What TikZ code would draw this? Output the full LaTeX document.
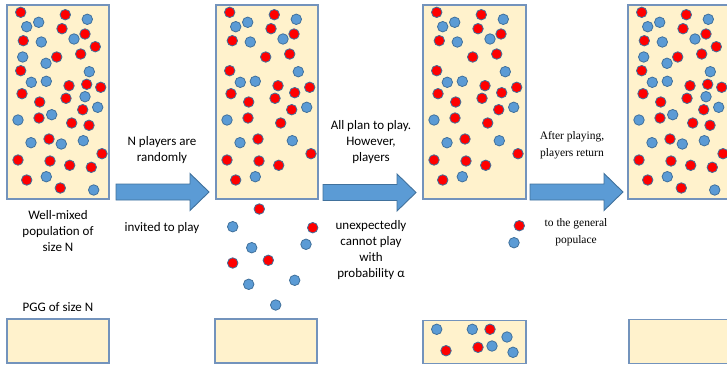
\documentclass[tikz,border=0pt]{standalone}
\usepackage{fontspec}
\setmainfont{Carlito}
\newfontfamily\serifface{Liberation Serif}
\definecolor{boxfill}{HTML}{FFF2CC}
\definecolor{boxline}{HTML}{7393BC}
\definecolor{ballred}{HTML}{FF0000}
\definecolor{ballblue}{HTML}{5B9BD5}
\definecolor{ballline}{HTML}{41719C}
\definecolor{arrowfill}{HTML}{5B9BD5}
\definecolor{arrowline}{HTML}{41719C}
\tikzset{
  popbox/.style={draw=boxline, fill=boxfill, line width=1.4pt, inner sep=0pt},
  ball/.style={circle, inner sep=0pt, minimum size=10.5pt, draw=ballline, line width=0.8pt},
  redball/.style={ball, fill=ballred},
  blueball/.style={ball, fill=ballblue},
  arrowstyle/.style={fill=arrowfill, draw=arrowline, line width=0.9pt, line join=miter},
  fatarrow/.pic={\path[arrowstyle] (0,-8) -- (74,-8) -- (74,-18.5) -- (93,0) -- (74,18.5) -- (74,8) -- (0,8) -- cycle;},
  lbl/.style={align=center, font=\fontsize{13}{16}\selectfont, inner sep=0pt},
  slbl/.style={align=center, font=\serifface\fontsize{11.5}{16.5}\selectfont, inner sep=0pt}
}
\def\redcommon{20.7/12.3, 65.3/14.7, 62/28.7, 85/34, 23.3/40.7, 80.7/54, 56.7/57, 20.7/70.7, 69/85.7, 100.7/87.3, 22/93.7, 66/98.3, 39.7/102, 82.7/109.7, 39/118, 71.7/123, 49/139, 102/153.7, 18/160, 50/161, 69.7/165.3, 26.7/180}
\def\bluecommon{38.7/22.3, 26.7/26.7, 87.3/19.3, 41.3/42, 74/39, 89.3/71.7, 31.3/82.3, 46.3/81.3, 97.7/107.3, 18/120, 31/142.7, 83.3/140.7, 46.3/176.7}
\def\redextra{95.3/46.7, 86.7/84.3, 89/125.3, 91.3/167.3, 60.3/188}
\def\blueextra{22.7/57, 46/63.3, 85/96.7, 51.7/114.7, 61.3/144, 93.7/190}
\begin{document}
\begin{tikzpicture}[x=1pt,y=-1pt]
\useasboundingbox (0,0) rectangle (727,364);
\begin{scope}
\clip (0,0) rectangle (727,364);
% population boxes
\node[popbox, minimum width=102pt, minimum height=194pt] (pop1) at (58,102) {};
\node[popbox, minimum width=102pt, minimum height=194pt] (pop2) at (267,102) {};
\node[popbox, minimum width=103pt, minimum height=194pt] (pop3) at (474.5,102) {};
\node[popbox, minimum width=102pt, minimum height=194pt] (pop4) at (679,102) {};
% PGG boxes
\node[popbox, minimum width=102pt, minimum height=44pt] (pgg1) at (58,341) {};
\node[popbox, minimum width=102pt, minimum height=44pt] (pgg2) at (266,341) {};
\node[popbox, minimum width=103pt, minimum height=43pt] (pgg3) at (474.5,342) {};
\node[popbox, minimum width=102pt, minimum height=44pt] (pgg4) at (680,341.5) {};
% balls in the population boxes
\foreach \k/\dx in {1/0, 2/209, 3/416, 4/621}{
  \foreach \x/\y [count=\i] in \redcommon { \node[redball] (r\k-\i) at ({\x+\dx},\y) {}; }
  \foreach \x/\y [count=\i] in \bluecommon { \node[blueball] (b\k-\i) at ({\x+\dx},\y) {}; }
}
\foreach \k/\dx in {1/0, 4/621}{
  \foreach \x/\y [count=\i] in \redextra { \node[redball] (re\k-\i) at ({\x+\dx},\y) {}; }
  \foreach \x/\y [count=\i] in \blueextra { \node[blueball] (be\k-\i) at ({\x+\dx},\y) {}; }
}
\foreach \k/\dx in {2/209, 3/416}{
  \node[redball] (rm\k) at ({85.7+\dx},92.7) {};
}
% invited players falling below box 2
\foreach \x/\y [count=\i] in {259.3/209, 312.7/227.7, 232.7/263, 268.3/260.3}
  { \node[redball] (ir\i) at (\x,\y) {}; }
\foreach \x/\y [count=\i] in {232.7/226.7, 251.7/247.7, 306/244.3, 248.7/284.3, 294.7/280.3, 275.7/305}
  { \node[blueball] (ib\i) at (\x,\y) {}; }
% players returning
\node[redball] (rr1) at (519.3,225.7) {};
\node[blueball] (rb1) at (514,242.7) {};
% players in the PGG
\foreach \x/\y [count=\i] in {490/329.3, 446/350.7, 478/347.3}
  { \node[redball] (gr\i) at (\x,\y) {}; }
\foreach \x/\y [count=\i] in {436.7/329.3, 472.3/329.3, 507/337, 492/346, 513/352.3}
  { \node[blueball] (gb\i) at (\x,\y) {}; }
% arrows
\pic at (116,192) {fatarrow};
\pic at (323,192.5) {fatarrow};
\pic at (530,192) {fatarrow};
% labels
\node[lbl] (t1) at (162,150) {N players are\\randomly};
\node[lbl] (t2) at (162,228) {invited to play};
\node[lbl] (t3) at (58,231) {Well-mixed\\population of\\size N};
\node[lbl] (t4) at (58,307) {PGG of size N};
\node[lbl] (t5) at (371,142) {All plan to play.\\However,\\players};
\node[lbl] (t6) at (371,250.5) {unexpectedly\\cannot play\\with\\probability α};
\node[slbl] (t7) at (572,145) {After playing,\\players return};
\node[slbl] (t8) at (576,232) {to the general\\populace};
\end{scope}
\end{tikzpicture}
\end{document}
